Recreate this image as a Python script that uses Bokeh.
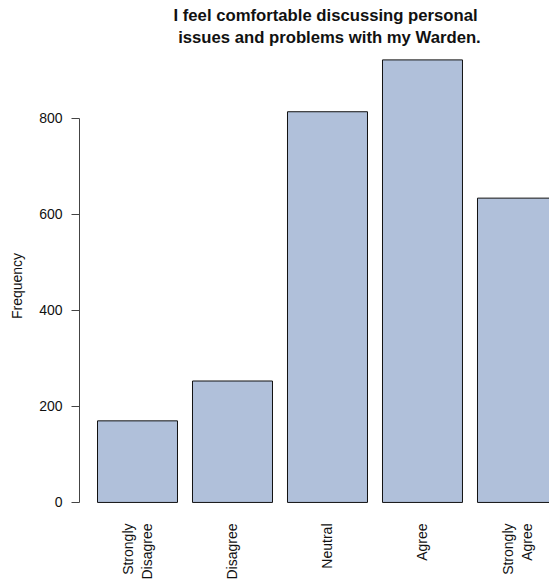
from bokeh.plotting import figure
from bokeh.models import Range1d, FixedTicker
from bokeh.embed import file_html
from bokeh.resources import INLINE
import numpy as np

categories = ["Strongly\nDisagree", "Disagree", "Neutral", "Agree", "Strongly\nAgree"]
counts = [170, 253, 814, 922, 634]
y_ticks = [0, 200, 400, 600, 800]
title_lines = ["I feel comfortable discussing personal", "\u00a0issues and problems with my Warden."]

xpos = np.arange(len(categories))

p = figure(width=549, height=582, output_backend="svg", toolbar_location=None,
           x_range=Range1d(-0.6105, 4.337), y_range=Range1d(-37.6, 939.5),
           min_border_left=79, min_border_right=0, min_border_top=0, min_border_bottom=0)
p.outline_line_color = None
p.xgrid.visible = False
p.ygrid.visible = False
p.background_fill_color = "white"
p.border_fill_color = "white"

p.vbar(x=xpos, top=counts, width=0.842, bottom=0,
       fill_color="#B0C0DA", line_color="#111111", line_width=1)

FONT = "Liberation Sans"
p.title.text = "\n".join(title_lines)
p.title.text_font = FONT
p.title.text_font_size = "16.7px"
p.title.text_font_style = "bold"
p.title.text_color = "#111111"
p.title.align = "left"
p.title.offset = 94
p.title.text_line_height = 1.18
p.title.standoff = 8

xa = p.xaxis[0]
xa.ticker = FixedTicker(ticks=list(xpos))
xa.major_label_overrides = {int(i): c for i, c in zip(xpos, categories)}
xa.major_label_orientation = np.pi / 2
xa.axis_line_color = None
xa.major_tick_line_color = None
xa.minor_tick_line_color = None
xa.major_tick_out = 0
xa.major_tick_in = 0
xa.major_label_standoff = 3
xa.major_label_text_font = FONT
xa.major_label_text_font_size = "14px"
xa.major_label_text_color = "#111111"

ya = p.yaxis[0]
ya.ticker = FixedTicker(ticks=y_ticks)
ya.bounds = (y_ticks[0], y_ticks[-1])
ya.axis_line_color = "#444444"
ya.major_tick_line_color = "#444444"
ya.minor_tick_line_color = None
ya.major_tick_out = 8
ya.major_tick_in = 0
ya.major_label_standoff = 9
ya.major_label_text_font = FONT
ya.major_label_text_font_size = "14px"
ya.major_label_text_color = "#111111"
ya.axis_label = "Frequency"
ya.axis_label_text_font = FONT
ya.axis_label_text_font_size = "14px"
ya.axis_label_text_font_style = "normal"
ya.axis_label_text_color = "#111111"
ya.axis_label_standoff = 11

open("out.html", "w").write(file_html(p, INLINE))
